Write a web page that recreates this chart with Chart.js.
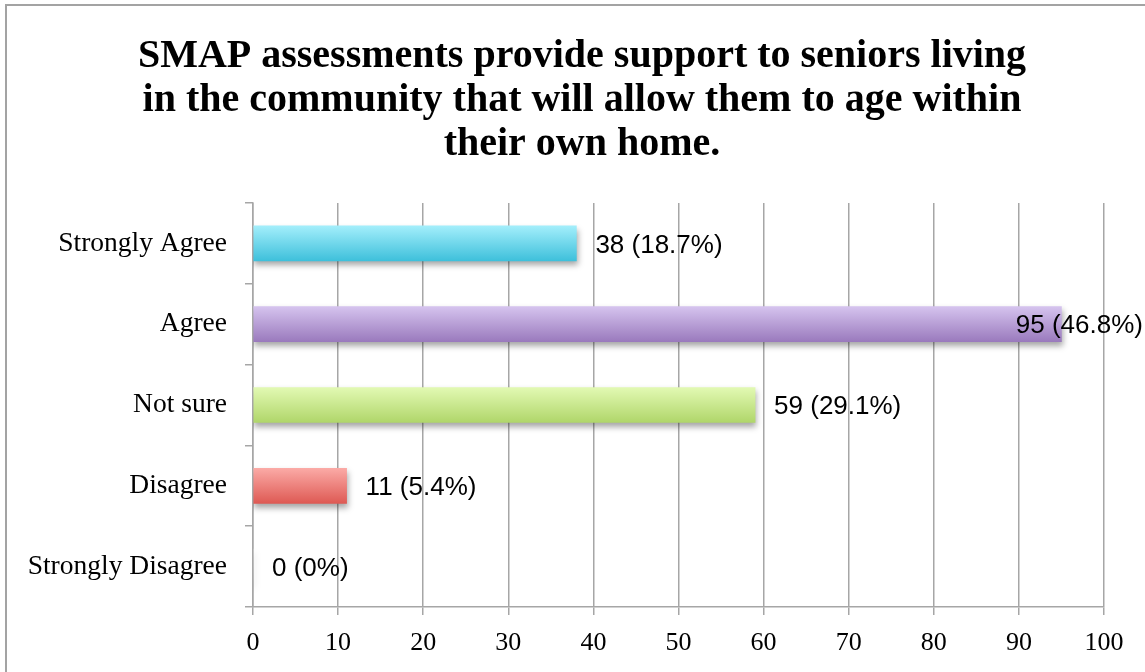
<!DOCTYPE html>
<html>
<head>
<meta charset="utf-8">
<script src="https://cdn.jsdelivr.net/npm/chart.js@4/dist/chart.umd.min.js"></script>
<style>
  body { margin: 0; background: #fff; overflow: hidden; }
  #frame { position: absolute; left: 5px; top: 4px; width: 1200px; height: 800px; border: 2px solid #a3a3a3; }
  #chart { position: absolute; left: 0; top: 0; }
</style>
</head>
<body>
<div id="frame"></div>
<canvas id="chart" width="1145" height="672"></canvas>
<script>
const titleLines = [
    'SMAP assessments provide support to seniors living',
    'in the community that will allow them to age within',
    'their own home.'
];
const categories = ['Strongly Agree', 'Agree', 'Not sure', 'Disagree', 'Strongly Disagree'];
const counts = [38, 95, 59, 11, 0];
const percents = ['18.7%', '46.8%', '29.1%', '5.4%', '0%'];
const xTicks = [0, 10, 20, 30, 40, 50, 60, 70, 80, 90, 100];

// top / bottom colour of each bar's gradient
const topColors = ['#a3eefb', '#d5c3ee', '#e2f9b3', '#fbaaa6', '#dddddd'];
const bottomColors = ['#3ec0db', '#9a7abd', '#b0d66a', '#de5a54', '#bbbbbb'];

const BAR_H = 35;
const gridGray = '#a6a6a6';

function barFill(context) {
    const chart = context.chart;
    const i = context.dataIndex;
    if (!chart.chartArea || !chart.scales.y) return bottomColors[i];
    const y = chart.scales.y.getPixelForValue(i);
    const g = chart.ctx.createLinearGradient(0, y - BAR_H / 2, 0, y + BAR_H / 2);
    g.addColorStop(0, topColors[i]);
    g.addColorStop(1, bottomColors[i]);
    return g;
}

// title is centred on the frame, not on the plot, so draw it by hand
const frameTitle = {
    id: 'frameTitle',
    afterDraw(chart) {
        const c = chart.ctx;
        c.save();
        c.font = 'bold 40px "Liberation Serif", serif';
        c.fillStyle = '#000';
        c.textAlign = 'center';
        c.textBaseline = 'alphabetic';
        titleLines.forEach((line, i) => c.fillText(line, 582, 67 + i * 44));
        c.restore();
    }
};

// soft drop shadow under the bars
const barShadow = {
    id: 'barShadow',
    beforeDatasetsDraw(chart) {
        const c = chart.ctx;
        c.save();
        c.shadowColor = 'rgba(0,0,0,0.35)';
        c.shadowBlur = 6;
        c.shadowOffsetX = 1;
        c.shadowOffsetY = 4;
    },
    afterDatasetsDraw(chart) {
        chart.ctx.restore();
    }
};

// "38 (18.7%)" next to each bar
const valueLabels = {
    id: 'valueLabels',
    afterDatasetsDraw(chart) {
        const c = chart.ctx;
        const meta = chart.getDatasetMeta(0);
        c.save();
        c.font = '26px "Liberation Sans", Arial, sans-serif';
        c.fillStyle = '#000';
        c.textBaseline = 'middle';
        meta.data.forEach((bar, i) => {
            const txt = `${counts[i]} (${percents[i]})`;
            const w = c.measureText(txt).width;
            let x = bar.x + 19;
            if (x + w > chart.width - 2) x = chart.width - 2 - w;
            c.fillText(txt, x, bar.y + 2);
        });
        c.restore();
    }
};

new Chart(document.getElementById('chart'), {
    type: 'bar',
    data: {
        labels: categories,
        datasets: [{
            data: counts,
            backgroundColor: barFill,
            borderWidth: 0,
            barThickness: BAR_H
        }]
    },
    options: {
        indexAxis: 'y',
        responsive: false,
        animation: false,
        layout: { padding: { left: 0, right: 41, top: 203, bottom: 0 } },
        plugins: {
            legend: { display: false },
            tooltip: { enabled: false },
            title: { display: false }
        },
        scales: {
            x: {
                min: 0,
                max: 100,
                afterFit: s => { s.height = 65; },
                afterBuildTicks: s => { s.ticks = xTicks.map(v => ({ value: v })); },
                grid: { color: gridGray, lineWidth: 1.5, tickLength: 8 },
                border: { color: gridGray, width: 1.5 },
                ticks: {
                    color: '#000',
                    padding: 13,
                    font: { family: '"Liberation Serif", serif', size: 26 }
                }
            },
            y: {
                afterFit: s => { s.width = 253; },
                grid: { color: gridGray, lineWidth: 1.5, tickLength: 8, drawOnChartArea: false, offset: true },
                border: { color: gridGray, width: 1.5 },
                ticks: {
                    color: '#000',
                    padding: 18,
                    font: { family: '"Liberation Serif", serif', size: 27.5 }
                }
            }
        }
    },
    plugins: [frameTitle, barShadow, valueLabels]
});
</script>
</body>
</html>
